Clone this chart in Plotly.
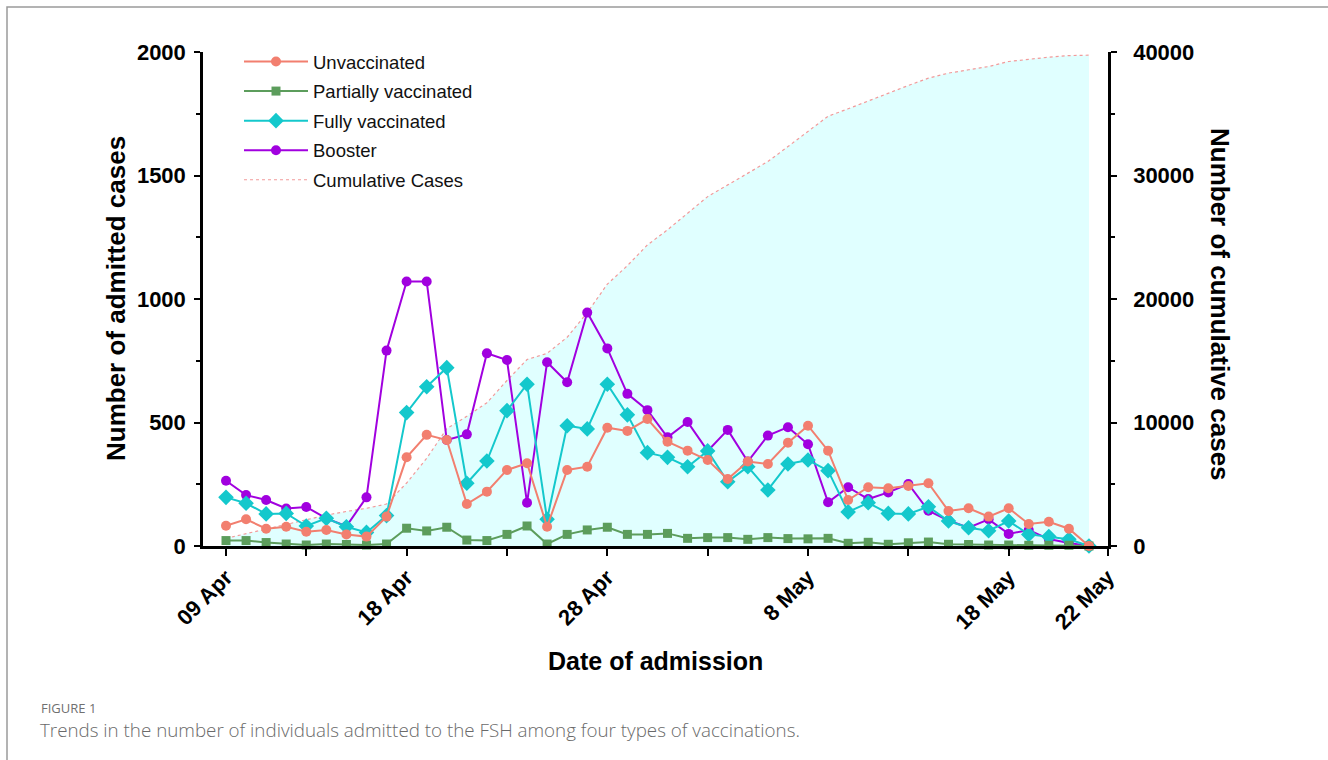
import pandas as pd
import plotly.graph_objects as go

# Daily admissions, 09 Apr - 22 May
dates = pd.date_range("2022-04-09", "2022-05-22", freq="D")

unvaccinated = [82, 108, 70, 78, 58, 65, 47, 38, 119, 359, 450, 429, 170, 220, 308, 335,
                78, 308, 321, 479, 466, 514, 422, 386, 348, 271, 342, 332, 418, 487, 386,
                186, 238, 234, 243, 254, 142, 153, 119, 153, 89, 98, 70, 0]
partially = [22, 22, 14, 8, 4, 8, 6, 4, 8, 72, 61, 76, 24, 22, 47, 81, 8, 47, 65, 76, 47,
             47, 51, 31, 34, 34, 27, 34, 30, 29, 31, 11, 15, 7, 13, 16, 7, 6, 4, 4, 3, 3, 3, 0]
fully = [197, 173, 130, 132, 81, 112, 78, 55, 123, 540, 645, 722, 254, 344, 548, 655, 108,
         487, 474, 655, 531, 378, 359, 321, 385, 260, 321, 227, 332, 348, 305, 138, 175,
         132, 130, 159, 101, 74, 62, 101, 47, 38, 27, 0]
booster = [264, 206, 186, 152, 158, 112, 80, 197, 791, 1071, 1071, 429, 452, 780, 753, 175,
           744, 663, 945, 800, 616, 550, 440, 502, 385, 470, 342, 447, 481, 412, 177, 238,
           190, 217, 251, 143, 103, 74, 108, 49, 65, 28, 12, 0]
cumulative = [620, 1000, 1380, 1760, 2130, 2500, 2800, 3050, 3400, 5100, 7100, 9500, 10500,
              11600, 13400, 15100, 15600, 16900, 18900, 21200, 22700, 24380, 25600, 26950,
              28290, 29240, 30190, 31130, 32340, 33600, 34800, 35400, 36040, 36670, 37290,
              37880, 38290, 38560, 38820, 39230, 39420, 39580, 39710, 39740]

x_start = "2022-04-07 20:30"
x_end = "2022-05-22 22:45"
tick_vals = ["2022-04-09", "2022-04-18", "2022-04-28", "2022-05-08", "2022-05-18", x_end]
tick_text = ["09 Apr", "18 Apr", "28 Apr", "8 May", "18 May", "22 May"]
minor_vals = ["2022-04-13", "2022-04-23", "2022-05-03", "2022-05-13"]

C_UNVAX = "#F27F6F"
C_PART = "#5C9D5C"
C_FULL = "#14C8CC"
C_BOOST = "#A100DF"
C_CUM = "#F29A9A"
C_FILL = "#E0FFFF"

FONT = "Liberation Sans, Arial, sans-serif"

fig = go.Figure()

# cumulative area sits on the base (right-hand) axis so it is painted underneath
fig.add_trace(go.Scatter(
    x=dates, y=cumulative, name="Cumulative Cases", yaxis="y",
    mode="lines", fill="tozeroy", fillcolor=C_FILL,
    line=dict(color=C_CUM, width=1.2, dash="dot"),
    showlegend=False,
))
# daily series on the overlaying (left-hand) axis
fig.add_trace(go.Scatter(
    x=dates, y=booster, name="Booster", mode="lines+markers", yaxis="y2",
    line=dict(color=C_BOOST, width=2), marker=dict(symbol="circle", size=10, color=C_BOOST),
    cliponaxis=False, legendgroup="d", legendrank=4,
))
fig.add_trace(go.Scatter(
    x=dates, y=fully, name="Fully vaccinated", mode="lines+markers", yaxis="y2",
    line=dict(color=C_FULL, width=2), marker=dict(symbol="diamond", size=12, color=C_FULL),
    cliponaxis=False, legendgroup="c", legendrank=3,
))
fig.add_trace(go.Scatter(
    x=dates, y=partially, name="Partially vaccinated", mode="lines+markers", yaxis="y2",
    line=dict(color=C_PART, width=2), marker=dict(symbol="square", size=9, color=C_PART),
    cliponaxis=False, legendgroup="b", legendrank=2,
))
fig.add_trace(go.Scatter(
    x=dates, y=unvaccinated, name="Unvaccinated", mode="lines+markers", yaxis="y2",
    line=dict(color=C_UNVAX, width=2), marker=dict(symbol="circle", size=10, color=C_UNVAX),
    cliponaxis=False, legendgroup="a", legendrank=1,
))
# legend entry for the cumulative curve: dotted line only, without the fill swatch
fig.add_trace(go.Scatter(
    x=[None], y=[None], name="Cumulative Cases", mode="lines", yaxis="y",
    line=dict(color=C_CUM, width=1.2, dash="dot"),
    legendgroup="e", legendrank=5,
))

W, H = 1328, 760
L, R, T, B = 203, 220, 52, 214
pw, ph = W - L - R, H - T - B


def px(xp):
    return (xp - L) / pw


def py(yp):
    return (H - B - yp) / ph


axis_common = dict(showline=True, linecolor="black", linewidth=2.5,
                   showgrid=False, zeroline=False)

fig.update_layout(
    width=W, height=H,
    margin=dict(l=L, r=R, t=T, b=B, pad=0),
    paper_bgcolor="white", plot_bgcolor="white",
    font=dict(family=FONT, color="black"),
    showlegend=True,
    legend=dict(
        x=px(239), y=py(43), xanchor="left", yanchor="top",
        bgcolor="rgba(0,0,0,0)", borderwidth=0,
        font=dict(family=FONT, size=18.5, color="#111"),
        itemwidth=64, tracegroupgap=2.5, traceorder="grouped",
    ),
    xaxis=dict(
        type="date", range=[x_start, x_end], **axis_common,
        tickmode="array", tickvals=tick_vals, ticktext=tick_text,
        ticks="outside", ticklen=7, tickwidth=2, tickcolor="black",
        tickangle=-45, tickfont=dict(family=FONT, size=22, weight="bold"),
        minor=dict(tickmode="array", tickvals=minor_vals, ticks="outside",
                   ticklen=7, tickwidth=2, tickcolor="black", showgrid=False),
    ),
    yaxis=dict(
        range=[0, 40000], side="right", **axis_common,
        tickmode="array", tickvals=[0, 10000, 20000, 30000, 40000], tickformat="d",
        ticks="outside", ticklen=6, tickwidth=2, tickcolor="black",
        tickfont=dict(family=FONT, size=22, weight="bold"),
        ticklabelstandoff=12,
        minor=dict(dtick=5000, ticks="outside", ticklen=4, tickwidth=2, tickcolor="black"),
    ),
    yaxis2=dict(
        range=[0, 2000], side="left", overlaying="y", **axis_common,
        tickmode="array", tickvals=[0, 500, 1000, 1500, 2000],
        ticks="outside", ticklen=6, tickwidth=2, tickcolor="black",
        tickfont=dict(family=FONT, size=22, weight="bold"),
        ticklabelstandoff=4,
        minor=dict(dtick=250, ticks="outside", ticklen=4, tickwidth=2, tickcolor="black"),
    ),
    shapes=[dict(
        type="rect", xref="paper", yref="paper",
        x0=px(7), x1=px(W + 20), y0=py(H + 20), y1=py(7),
        line=dict(color="#9a9a9a", width=1.5), fillcolor="rgba(0,0,0,0)", layer="below",
    )],
    annotations=[
        dict(text="<b>Number of admitted cases</b>", xref="paper", yref="paper",
             x=px(116), y=0.5, xanchor="center", yanchor="middle", textangle=-90,
             showarrow=False, font=dict(family=FONT, size=26, color="black")),
        dict(text="<b>Number of cumulative cases</b>", xref="paper", yref="paper",
             x=px(1220), y=py(304), xanchor="center", yanchor="middle", textangle=90,
             showarrow=False, font=dict(family=FONT, size=26, color="black")),
        dict(text="<b>Date of admission</b>", xref="paper", yref="paper",
             x=0.5, y=py(661), xanchor="center", yanchor="middle",
             showarrow=False, font=dict(family=FONT, size=25, color="black")),
        dict(text="FIGURE 1", xref="paper", yref="paper",
             x=px(39), y=py(708), xanchor="left", yanchor="middle",
             showarrow=False, font=dict(family="Open Sans, sans-serif", size=13, color="#707070")),
        dict(text="Trends in the number of individuals admitted to the FSH among four types of vaccinations.",
             xref="paper", yref="paper",
             x=px(38), y=py(730), xanchor="left", yanchor="middle",
             showarrow=False,
             font=dict(family="Open Sans, sans-serif", size=18.8, color="#6a6a6a", weight=300)),
    ],
)

fig.write_html("out.html")
